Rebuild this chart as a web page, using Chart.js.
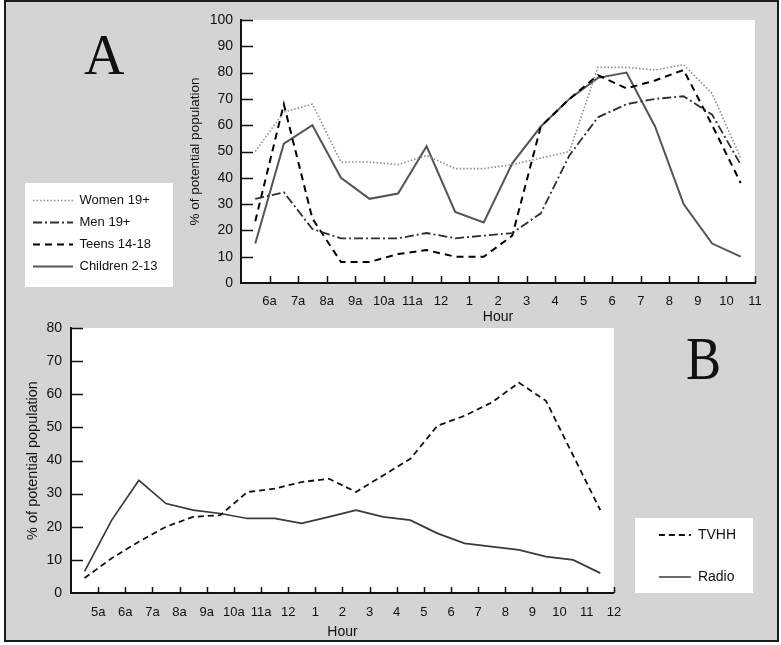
<!DOCTYPE html>
<html>
<head>
<meta charset="utf-8">
<title>Audience by hour of day</title>
<script src="https://cdn.jsdelivr.net/npm/chart.js@4.4.1/dist/chart.umd.min.js"></script>
<style>
  html, body { margin: 0; padding: 0; background: #fff; }
  #sheet { position: absolute; left: 4px; top: 0; width: 771px; height: 638px;
           border: 2px solid #1b1b1b; background: #d4d4d4; }
  canvas { position: absolute; left: 0; }
  #chartA { top: 0; }
  #chartB { top: 300px; }
  .panel { position: absolute; font-family: "Liberation Serif", "Times New Roman", serif;
           line-height: 1; color: #111; transform-origin: left top; }
  #labelA { left: 84px; top: 27px; font-size: 56px; }
  #labelB { left: 686px; top: 327px; font-size: 62px; transform: scaleX(0.85); }
</style>
</head>
<body>
<div id="sheet"></div>
<canvas id="chartA" width="781" height="329"></canvas>
<canvas id="chartB" width="781" height="345"></canvas>
<div class="panel" id="labelA">A</div>
<div class="panel" id="labelB">B</div>
<script>
// panel A: audience share by hour, half-hour midpoints 5:30a .. 10:30p
var hoursA = [5.5, 6.5, 7.5, 8.5, 9.5, 10.5, 11.5, 12.5, 13.5, 14.5, 15.5, 16.5, 17.5, 18.5, 19.5, 20.5, 21.5, 22.5];
var women = [50, 65, 68, 46, 46, 45, 48.5, 43.5, 43.5, 45, 47.5, 50, 82, 82, 81, 83, 72, 47.5];
var men = [32, 34.5, 20.5, 17, 17, 17, 19, 17, 18, 19, 26.5, 48.5, 63, 68, 70, 71, 64, 45];
var teens = [23.5, 68, 24.5, 8, 8, 11, 12.5, 10, 10, 18, 59.5, 70, 79, 74, 77, 81, 60, 38];
var children = [15, 53, 60, 40, 32, 34, 52, 27, 23, 45.5, 59.5, 70, 78, 80, 59.5, 30, 15, 10];
var hourLabelsA = ['6a', '7a', '8a', '9a', '10a', '11a', '12', '1', '2', '3', '4', '5', '6', '7', '8', '9', '10', '11'];
var firstHourA = 6;

// panel B: TV households vs radio, 4:30a .. 11:30p
var hoursB = [4.5, 5.5, 6.5, 7.5, 8.5, 9.5, 10.5, 11.5, 12.5, 13.5, 14.5, 15.5, 16.5, 17.5, 18.5, 19.5, 20.5, 21.5, 22.5, 23.5];
var tvhh = [4.5, 10.5, 15.5, 20, 23, 23.5, 30.5, 31.5, 33.5, 34.5, 30.5, 35.5, 40.5, 50.5, 53.5, 57.5, 63.5, 58, 41.5, 25];
var radio = [6.5, 22, 34, 27, 25, 24, 22.5, 22.5, 21, 23, 25, 23, 22, 18, 15, 14, 13, 11, 10, 6];
var hourLabelsB = ['5a', '6a', '7a', '8a', '9a', '10a', '11a', '12', '1', '2', '3', '4', '5', '6', '7', '8', '9', '10', '11', '12'];
var firstHourB = 5;

var sans = '"Liberation Sans", Arial, Helvetica, sans-serif';
var narrow = '"Liberation Sans Narrow", "Liberation Sans", Arial, sans-serif';
var ink = '#111';

Chart.defaults.color = ink;
Chart.defaults.font.family = sans;

function points(xs, ys) {
    return xs.map(function (x, i) { return { x: x, y: ys[i] }; });
}

// legend samples should look like the lines, not like the (hidden) points
function lineLabels(chart) {
    return Chart.defaults.plugins.legend.labels.generateLabels(chart).map(function (item) {
        var ds = chart.data.datasets[item.datasetIndex];
        item.lineDash = ds.borderDash || [];
        item.lineWidth = ds.borderWidth;
        item.strokeStyle = ds.borderColor;
        return item;
    });
}

// white plot, legend box, inward tick marks, legend nudge
var figure = {
    id: 'figure',
    afterLayout: function (chart, args, opts) {
        var lg = chart.legend;
        if (lg && opts.shift) {
            lg.left += opts.shift.x; lg.right += opts.shift.x;
            lg.top += opts.shift.y; lg.bottom += opts.shift.y;
        }
    },
    beforeDraw: function (chart, args, opts) {
        var ctx = chart.ctx, a = chart.chartArea;
        ctx.save();
        ctx.fillStyle = '#fff';
        ctx.fillRect(a.left, a.top, a.right - a.left, a.bottom - a.top);
        if (opts.box) ctx.fillRect(opts.box.x, opts.box.y, opts.box.w, opts.box.h);
        ctx.restore();
    },
    afterDraw: function (chart, args, opts) {
        var ctx = chart.ctx, a = chart.chartArea;
        var x = chart.scales.x, y = chart.scales.y;
        ctx.save();
        ctx.strokeStyle = ink;
        ctx.lineWidth = 1.5;
        ctx.beginPath();
        x.ticks.forEach(function (t) {
            if (t.value === x.min) return;
            var px = Math.round(x.getPixelForValue(t.value)) + 0.5;
            ctx.moveTo(px, a.bottom);
            ctx.lineTo(px, a.bottom - opts.tickX);
        });
        y.ticks.forEach(function (t) {
            if (t.value === y.min) return;
            var py = Math.round(y.getPixelForValue(t.value)) + 0.5;
            ctx.moveTo(a.left, py);
            ctx.lineTo(a.left + opts.tickY, py);
        });
        ctx.stroke();
        ctx.restore();
    }
};

function series(label, xs, ys, color, width, dash) {
    return {
        label: label,
        data: points(xs, ys),
        borderColor: color,
        backgroundColor: color,
        borderWidth: width,
        borderDash: dash,
        pointRadius: 0,
        tension: 0,
        fill: false
    };
}

var chartA = new Chart(document.getElementById('chartA'), {
    type: 'line',
    data: {
        datasets: [
            series('Women 19+', hoursA, women, '#8c8c8c', 1.6, [1.5, 2]),
            series('Men 19+', hoursA, men, '#2e2e2e', 1.8, [9, 3, 2, 3]),
            series('Teens 14-18', hoursA, teens, '#000', 2, [7, 5]),
            series('Children 2-13', hoursA, children, '#555', 2, [])
        ]
    },
    options: {
        responsive: false,
        animation: false,
        layout: { padding: { left: 24, top: 20, right: 26, bottom: 0 } },
        plugins: {
            tooltip: { enabled: false },
            legend: {
                position: 'left',
                align: 'end',
                fullSize: false,
                labels: {
                    font: { size: 13 },
                    color: ink,
                    usePointStyle: true,
                    pointStyle: 'line',
                    pointStyleWidth: 40,
                    padding: 9,
                    generateLabels: lineLabels
                }
            },
            figure: { tickX: 7, tickY: 12, shift: { x: 0, y: -1 }, box: { x: 25, y: 183, w: 148, h: 104 } }
        },
        scales: {
            x: {
                type: 'linear',
                min: 5,
                max: 23,
                grid: { display: false, drawTicks: false },
                border: { color: ink, width: 2 },
                ticks: {
                    stepSize: 1,
                    autoSkip: false,
                    maxRotation: 0,
                    padding: 11,
                    font: { family: narrow, size: 13 },
                    callback: function (v) { return hourLabelsA[Math.round(v) - firstHourA] || ''; }
                },
                title: { display: true, text: 'Hour', font: { size: 14 }, padding: { top: 0, bottom: 3.6 } },
                afterFit: function (s) { s.height = 46; }
            },
            y: {
                min: 0,
                max: 100,
                grid: { display: false, drawTicks: false },
                border: { color: ink, width: 2 },
                ticks: { stepSize: 10, padding: 8, font: { size: 14 } },
                title: { display: true, text: '% of potential population', font: { size: 13.5 }, padding: { top: 20, bottom: 0 } },
                afterFit: function (s) {
                    var lw = s.chart.legend ? s.chart.legend.width : 0;
                    s.width = 241 - 24 - lw;
                }
            }
        }
    },
    plugins: [figure]
});

var chartB = new Chart(document.getElementById('chartB'), {
    type: 'line',
    data: {
        datasets: [
            series('TVHH', hoursB, tvhh, '#111', 1.8, [6, 4]),
            series('Radio', hoursB, radio, '#3a3a3a', 1.7, [])
        ]
    },
    options: {
        responsive: false,
        animation: false,
        layout: { padding: { left: 10, top: 28, right: 52, bottom: 0 } },
        plugins: {
            tooltip: { enabled: false },
            legend: {
                position: 'right',
                align: 'end',
                fullSize: false,
                labels: {
                    font: { size: 14 },
                    color: ink,
                    usePointStyle: true,
                    pointStyle: 'line',
                    pointStyleWidth: 32,
                    padding: 28,
                    generateLabels: lineLabels
                }
            },
            figure: { tickX: 6, tickY: 12, shift: { x: 17, y: 19 }, box: { x: 635, y: 218, w: 118, h: 75 } }
        },
        scales: {
            x: {
                type: 'linear',
                min: 4,
                max: 24,
                grid: { display: false, drawTicks: false },
                border: { color: ink, width: 2 },
                ticks: {
                    stepSize: 1,
                    autoSkip: false,
                    maxRotation: 0,
                    padding: 12,
                    font: { family: narrow, size: 13 },
                    callback: function (v) { return hourLabelsB[Math.round(v) - firstHourB] || ''; }
                },
                title: { display: true, text: 'Hour', font: { size: 14 }, padding: { top: 0, bottom: 4.6 } },
                afterFit: function (s) { s.height = 52; }
            },
            y: {
                min: 0,
                max: 80,
                grid: { display: false, drawTicks: false },
                border: { color: ink, width: 2 },
                ticks: { stepSize: 10, padding: 9, font: { size: 14 } },
                title: { display: true, text: '% of potential population', font: { size: 14.5 }, padding: { top: 14, bottom: 0 } },
                afterFit: function (s) { s.width = 61; }
            }
        }
    },
    plugins: [figure]
});
</script>
</body>
</html>
